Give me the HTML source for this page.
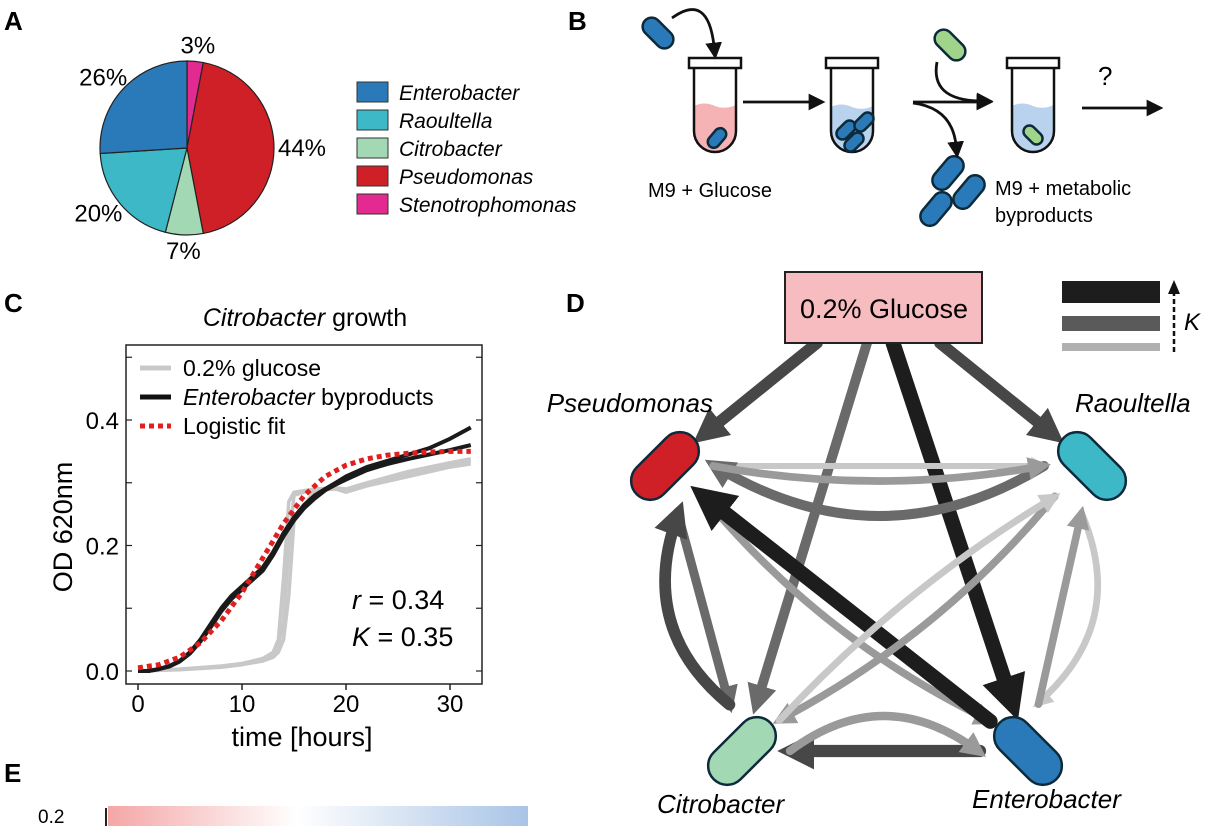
<!DOCTYPE html>
<html><head><meta charset="utf-8"><style>
body{margin:0;background:#fff;}
svg{display:block;font-family:"Liberation Sans",sans-serif;}
</style></head><body>
<svg id="fig" width="1208" height="826" viewBox="0 0 1208 826" xmlns="http://www.w3.org/2000/svg">
<defs>
<marker id="ah" viewBox="0 0 10 10" refX="6" refY="5" markerWidth="3" markerHeight="3" orient="auto" markerUnits="strokeWidth"><path d="M0,0 L10,5 L0,10 z" fill="context-stroke"/></marker>
<marker id="bh" viewBox="0 0 10 10" refX="2" refY="5" markerWidth="6" markerHeight="6" orient="auto"><path d="M0,0 L10,5 L0,10 z" fill="#111"/></marker>
<linearGradient id="eg" x1="0" x2="1"><stop offset="0" stop-color="#f4a6a6"/><stop offset="0.45" stop-color="#fff"/><stop offset="1" stop-color="#a9c4e6"/></linearGradient>
</defs>
<g id="panelA"></g>
<g id="panelB"></g>
<g id="panelC"></g>
<g id="panelD"></g>
<g id="panelE">
<text x="4" y="782" font-size="26" font-weight="bold">E</text>
<text x="38" y="823" font-size="19">0.2</text>
<line x1="106" y1="808" x2="106" y2="826" stroke="#222" stroke-width="2"/>
<rect x="108" y="806" width="420" height="20" fill="url(#eg)"/>
</g>
</svg>
<script>
const NS="http://www.w3.org/2000/svg";
function mk(p,tag,a,txt){const e=document.createElementNS(NS,tag);for(const k in a)e.setAttribute(k,a[k]);if(txt!==undefined)e.textContent=txt;p.appendChild(e);return e;}
// ---------- Panel A data ----------
const pieNames=["Stenotrophomonas","Pseudomonas","Citrobacter","Raoultella","Enterobacter"];
const pieValues=[3,44,7,20,26];
const legendOrder=["Enterobacter","Raoultella","Citrobacter","Pseudomonas","Stenotrophomonas"];
const pieColors={Enterobacter:"#2a7ab9",Raoultella:"#3cb8c6",Citrobacter:"#a2d8b4",Pseudomonas:"#cf2027",Stenotrophomonas:"#e22a91"};
const A=document.getElementById('panelA');
let t=mk(A,'text',{x:4,y:30,'font-size':26,'font-weight':'bold'},'A');

const cx=187,cy=148,rx=87,ry=87;let acc=0;const tot=pieValues.reduce((a,b)=>a+b,0);
pieValues.forEach((v,i)=>{const a0=acc/tot*2*Math.PI;acc+=v;const a1=acc/tot*2*Math.PI;
 const x0=cx+rx*Math.sin(a0),y0=cy-ry*Math.cos(a0),x1=cx+rx*Math.sin(a1),y1=cy-ry*Math.cos(a1);
 const p=mk(A,'path',{d:`M${cx},${cy} L${x0},${y0} A${rx},${ry} 0 ${(a1-a0)>Math.PI?1:0} 1 ${x1},${y1} Z`,fill:pieColors[pieNames[i]],stroke:'#222','stroke-width':1.2});
 
 const am=(a0+a1)/2;const lx=cx+115*Math.sin(am),ly=cy-103*Math.cos(am)+8;
 const l=mk(A,'text',{x:lx,y:ly,'font-size':24,'text-anchor':'middle'},v+'%');
 
});
legendOrder.forEach((n,i)=>{const y=82+i*28;
 const r=mk(A,'rect',{x:357,y:y,width:31,height:20,fill:pieColors[n],stroke:'#333','stroke-width':1});
 
 const tx=mk(A,'text',{x:399,y:y+18,'font-size':21,'font-style':'italic'},n);
 
});
// ---------- Panel B ----------
const B=document.getElementById('panelB');
t=mk(B,'text',{x:568,y:30,'font-size':26,'font-weight':'bold'},'B');

function pill(p,x,y,len,w,ang,fill,name){const g=mk(p,'rect',{x:x-len/2,y:y-w/2,width:len,height:w,rx:w/2,fill:fill,stroke:'#0d2a3a','stroke-width':2.5,transform:`rotate(${ang} ${x} ${y})`});return g;}
function tube(x,liq,name,fillTop){const g=mk(B,'g',{});
 mk(g,'path',{d:`M${x-21},${fillTop} q10,-5 21,0 q10,4 21,-1 L${x+21},${131} a21,21 0 0 1 -42,0 Z`,fill:liq});
 mk(g,'path',{d:`M${x-21},68 L${x-21},131 a21,21 0 0 0 42,0 L${x+21},68`,fill:'none',stroke:'#111','stroke-width':2.5});
 mk(g,'rect',{x:x-26,y:58,width:52,height:10,fill:'#fff',stroke:'#111','stroke-width':2.5});return g;}
tube(715,'#f6b3b6','tube-glucose',106);tube(852,'#b9d3ef','tube-grown',107);tube(1033,'#b9d3ef','tube-byproducts',106);
pill(B,658,33,36,18,45,'#2a7ab9','cell-enterobacter-in');pill(B,717,138,22,12,-50,'#2a7ab9','cell-tube1');
pill(B,846,130,22,12,-45,'#2a7ab9','cell-t2a');pill(B,864,122,22,12,-45,'#2a7ab9','cell-t2b');pill(B,854,142,22,12,-45,'#2a7ab9','cell-t2c');
pill(B,950,45,36,18,45,'#9fd48a','cell-citrobacter-in');pill(B,1033,135,22,12,45,'#9fd48a','cell-tube3');
pill(B,948,173,38,19,-50,'#2a7ab9','cell-out1');pill(B,969,192,38,19,-50,'#2a7ab9','cell-out2');pill(B,936,209,38,19,-50,'#2a7ab9','cell-out3');
[["M672,18 Q708,-8 714,46"],["M743,102 L812,102"],["M913,102 L980,102"],["M937,62 Q930,100 980,101"],["M913,103 Q952,108 956,145"],["M1082,108 L1150,108"]].forEach((d,i)=>{const p=mk(B,'path',{d:d[0],fill:'none',stroke:'#111','stroke-width':2.8,'marker-end':'url(#bh)'});});
[["?",1098,85,'q-mark'],["M9 + Glucose",648,197,'label-m9-glucose'],["M9 + metabolic",995,195,'label-m9-byproducts'],["byproducts",995,222,'label-byproducts']].forEach(a=>{const e=mk(B,'text',{x:a[1],y:a[2],'font-size':a[0]=='?'?26:20},a[0]);});
// ---------- Panel C data ----------
const xTicks=[0,10,20,30];
const yTicks=[0.0,0.2,0.4];
const yTickLabels=["0.0","0.2","0.4"];
const byT=[0,1,2,3,4,5,6,7,8,9,10,11,12,13,14,15,16,17,18,19,20,22,24,26,28,30,32];
const byA=[0,0,0.003,0.008,0.016,0.03,0.05,0.075,0.1,0.12,0.135,0.15,0.165,0.19,0.22,0.245,0.265,0.28,0.29,0.3,0.31,0.325,0.335,0.345,0.355,0.37,0.388];
const byB=[0,0,0.003,0.007,0.015,0.028,0.047,0.07,0.095,0.115,0.13,0.145,0.16,0.185,0.215,0.24,0.26,0.275,0.288,0.297,0.305,0.32,0.33,0.338,0.345,0.352,0.36];
const glT=[0,4,8,10,12,13,13.5,14,14.5,15,17,19,20,22,26,30,32];
const glA=[0,0.003,0.008,0.012,0.02,0.03,0.05,0.15,0.27,0.285,0.29,0.29,0.285,0.295,0.31,0.325,0.33];
const glB=[0,0.003,0.007,0.011,0.018,0.026,0.04,0.08,0.2,0.28,0.29,0.292,0.29,0.3,0.318,0.332,0.338];
const glC=[0,0.002,0.006,0.01,0.016,0.022,0.03,0.05,0.12,0.24,0.288,0.29,0.288,0.297,0.314,0.328,0.334];
const fitT=[0,2,4,6,8,10,12,14,16,18,20,22,24,26,28,30,32];
const fitV=[0.005,0.01,0.022,0.045,0.08,0.125,0.18,0.235,0.28,0.31,0.328,0.338,0.344,0.347,0.349,0.35,0.35];
const C=document.getElementById('panelC');
const X=v=>138+v*10.4, Y=v=>671-v*627.5;
t=mk(C,'text',{x:4,y:312,'font-size':26,'font-weight':'bold'},'C');
t=mk(C,'text',{x:305,y:326,'font-size':25,'text-anchor':'middle'});t.innerHTML='<tspan font-style="italic">Citrobacter</tspan> growth';
t=mk(C,'rect',{x:126,y:345,width:356,height:339,fill:'none',stroke:'#222','stroke-width':1.5});
xTicks.forEach(v=>{let e=mk(C,'line',{x1:X(v),x2:X(v),y1:684,y2:690,stroke:'#222','stroke-width':1.5});
 e=mk(C,'text',{x:X(v),y:712,'font-size':24,'text-anchor':'middle'},String(v));});
[0,0.1,0.2,0.3,0.4,0.5].forEach(v=>{let e=mk(C,'line',{x1:126,x2:132,y1:Y(v),y2:Y(v),stroke:'#222','stroke-width':1.2});
 e=mk(C,'line',{x1:476,x2:482,y1:Y(v),y2:Y(v),stroke:'#222','stroke-width':1.2});});
yTicks.forEach((v,i)=>{const e=mk(C,'text',{x:119,y:Y(v)+9,'font-size':24,'text-anchor':'end'},yTickLabels[i]);});
t=mk(C,'text',{x:302,y:746,'font-size':27,'text-anchor':'middle'},'time [hours]');
t=mk(C,'text',{x:0,y:0,'font-size':27,'text-anchor':'middle',transform:'translate(72,527) rotate(-90)'},'OD 620nm');
function line(ts,vs,col,w,name,dash){const d=ts.map((x,i)=>(i?'L':'M')+X(x).toFixed(1)+','+Y(vs[i]).toFixed(1)).join(' ');const p=mk(C,'path',{d:d,fill:'none',stroke:col,'stroke-width':w,'stroke-linejoin':'round'});if(dash)p.setAttribute('stroke-dasharray',dash);}
line(glT,glA,'#c8c8c8',3.5,'series-glucose-1');line(glT,glB,'#c8c8c8',3.5,'series-glucose-2');line(glT,glC,'#c8c8c8',3.5,'series-glucose-3');
line(byT,byA,'#1a1a1a',4,'series-byproducts-1');line(byT,byB,'#1a1a1a',4,'series-byproducts-2');
line(fitT,fitV,'#e02020',5,'series-logistic-fit','5,4');
[['#c8c8c8',null,'0.2% glucose',376],['#111',null,'byproducts',405],['#e02020','5,4','Logistic fit',434]].forEach((l,i)=>{
 let e=mk(C,'line',{x1:140,x2:171,y1:l[3]-8,y2:l[3]-8,stroke:l[0],'stroke-width':5});if(l[1])e.setAttribute('stroke-dasharray',l[1]);
 e=mk(C,'text',{x:183,y:l[3],'font-size':23});if(i==1)e.innerHTML='<tspan font-style="italic">Enterobacter</tspan> byproducts';else e.textContent=l[2];});
t=mk(C,'text',{x:352,y:609,'font-size':27});t.innerHTML='<tspan font-style="italic">r</tspan> = 0.34';
t=mk(C,'text',{x:352,y:646,'font-size':27});t.innerHTML='<tspan font-style="italic">K</tspan> = 0.35';
// ---------- Panel D data ----------
const nodeNames=["Pseudomonas","Raoultella","Citrobacter","Enterobacter"];
const nodeCx=[665,1092,742,1028];const nodeCy=[466,466,751,751];
const edgeFrom=["G","G","G","G","Pseudomonas","Raoultella","Pseudomonas","Enterobacter","Pseudomonas","Citrobacter","Raoultella","Enterobacter","Enterobacter","Citrobacter","Pseudomonas","Raoultella","Citrobacter"];
const edgeTo=["Pseudomonas","Raoultella","Enterobacter","Citrobacter","Raoultella","Pseudomonas","Enterobacter","Pseudomonas","Citrobacter","Pseudomonas","Enterobacter","Raoultella","Citrobacter","Enterobacter","Raoultella","Citrobacter","Raoultella"];
const edgeK=[2,2,3,1.5,0.3,1.5,0.8,3,1.2,2,0.5,0.8,2.2,1,0.8,0.8,0.6];
const edgeBend=[0,0,0,0,0,-100,40,0,0,-70,-70,0,0,-70,30,-35,-25];
const gStartDx=[-66,57,10,-16];
const D=document.getElementById('panelD');
t=mk(D,'text',{x:566,y:312,'font-size':26,'font-weight':'bold'},'D');
function kcol(k){return k>=2.8?'#1d1d1d':k>=1.8?'#474747':k>=1.2?'#6a6a6a':k>=0.7?'#9a9a9a':'#c8c8c8';}
function kw(k){return 5+k*3.3;}
const G={x:883,y:343};
function pos(n){const i=nodeNames.indexOf(n);return {x:nodeCx[i],y:nodeCy[i]};}
edgeFrom.forEach((f,i)=>{const tn=pos(edgeTo[i]);let s=f=="G"?{x:G.x+gStartDx[i],y:G.y}:pos(f);
 let dx=tn.x-s.x,dy=tn.y-s.y,L=Math.hypot(dx,dy);const ux=dx/L,uy=dy/L;
 const sOff=f=="G"?0:48, eOff=50;const sx=s.x+ux*sOff,sy=s.y+uy*sOff,ex=tn.x-ux*eOff,ey=tn.y-uy*eOff;
 const mx=(sx+ex)/2-uy*edgeBend[i],my=(sy+ey)/2+ux*edgeBend[i];
 const p=mk(D,'path',{d:`M${sx},${sy} Q${mx},${my} ${ex},${ey}`,fill:'none',stroke:kcol(edgeK[i]),'stroke-width':kw(edgeK[i]),'stroke-linecap':'round','marker-end':'url(#ah)'});
 });
t=mk(D,'rect',{x:785,y:272,width:197,height:71,fill:'#f7bcc0',stroke:'#222','stroke-width':2});
t=mk(D,'text',{x:884,y:318,'font-size':27,'text-anchor':'middle'},'0.2% Glucose');
const nodeFill=["#cf2027","#3cb8c6","#a2d8b4","#2a7ab9"];
nodeNames.forEach((n,i)=>{const ang=(i==0||i==2)?-45:45;pill(D,nodeCx[i],nodeCy[i],80,38,ang,nodeFill[i],'node-'+n.toLowerCase());});
[['Pseudomonas',713,412,'end'],['Raoultella',1075,412,'start'],['Citrobacter',657,813,'start'],['Enterobacter',972,808,'start']].forEach(a=>{const e=mk(D,'text',{x:a[1],y:a[2],'font-size':26,'font-style':'italic','text-anchor':a[3]},a[0]);});
[[281,22,'#1d1d1d'],[316,15,'#5a5a5a'],[343,8,'#b0b0b0']].forEach((b,i)=>{const e=mk(D,'rect',{x:1062,y:b[0],width:98,height:b[1],fill:b[2]});});
t=mk(D,'line',{x1:1174,y1:352,x2:1174,y2:292,stroke:'#111','stroke-width':2.5,'stroke-dasharray':'5,3'});
t=mk(D,'path',{d:'M1168,294 L1174,280 L1180,294 Z',fill:'#111'});
t=mk(D,'text',{x:1184,y:330,'font-size':24,'font-style':'italic'},'K');
</script>
</body></html>
